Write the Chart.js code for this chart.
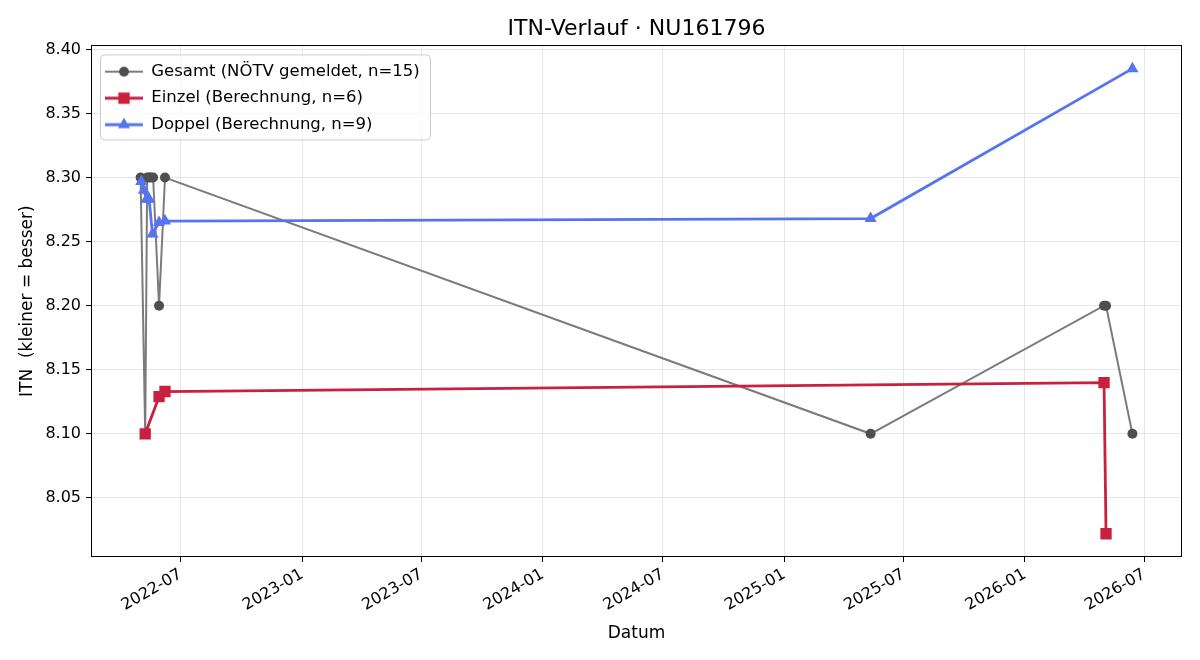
<!DOCTYPE html>
<html>
<head>
<meta charset="utf-8">
<title>ITN-Verlauf</title>
<script src="https://cdn.jsdelivr.net/npm/chart.js@4.4.1/dist/chart.umd.min.js"></script>
<style>
  html, body { margin: 0; padding: 0; background: #fff; }
  #wrap { width: 1200px; height: 660px; }
</style>
</head>
<body>
<div id="wrap"><canvas id="itnChart" width="1200" height="660"></canvas></div>
<script>
// Gesamt (NÖTV gemeldet)
const gesamtDates = ['2022-05-01', '2022-05-08', '2022-05-11', '2022-05-14', '2022-05-17', '2022-05-20',
  '2022-05-29', '2022-06-07', '2025-05-12', '2026-05-01', '2026-05-04', '2026-06-13'];
const gesamtValues = [8.30, 8.10, 8.30, 8.30, 8.30, 8.30, 8.20, 8.30, 8.10, 8.20, 8.20, 8.10];

// Einzel (Berechnung)
const einzelDates = ['2022-05-08', '2022-05-29', '2022-06-07', '2026-05-01', '2026-05-04'];
const einzelValues = [8.100, 8.129, 8.133, 8.140, 8.022];

// Doppel (Berechnung)
const doppelDates = ['2022-05-02', '2022-05-06', '2022-05-10', '2022-05-14', '2022-05-19',
  '2022-05-29', '2022-06-07', '2025-05-12', '2026-06-13'];
const doppelValues = [8.297, 8.290, 8.283, 8.283, 8.256, 8.265, 8.266, 8.268, 8.385];

const xTickMonths = ['2022-07', '2023-01', '2023-07', '2024-01', '2024-07', '2025-01', '2025-07', '2026-01', '2026-07'];
const yTicks = [8.05, 8.10, 8.15, 8.20, 8.25, 8.30, 8.35, 8.40];

const FONT = 'DejaVu Sans';
const toMs = d => Date.parse(d + 'T00:00:00Z');
const toPoints = (dates, values) => dates.map((d, i) => ({ x: toMs(d), y: values[i] }));

// matplotlib-like 5% margins
const allX = [...gesamtDates, ...einzelDates, ...doppelDates].map(toMs);
const allY = [...gesamtValues, ...einzelValues, ...doppelValues];
const xLo = Math.min(...allX), xHi = Math.max(...allX);
const yLo = Math.min(...allY), yHi = Math.max(...allY);
const xPad = (xHi - xLo) * 0.05, yPad = (yHi - yLo) * 0.05;

const GRAY_LINE = '#7b7b7b', GRAY_PT = '#4f4f4f';
const RED = '#c8203e';
const BLUE = '#5674ee';

function drawMarker(ctx, style, x, y, r) {
  ctx.beginPath();
  if (style === 'circle') {
    ctx.arc(x, y, r, 0, Math.PI * 2);
  } else if (style === 'rect') {
    const s = r * Math.SQRT1_2;
    ctx.rect(x - s, y - s, 2 * s, 2 * s);
  } else {
    for (let k = 0; k < 3; k++) {
      const a = k * 2 * Math.PI / 3;
      const px = x + Math.sin(a) * r, py = y - Math.cos(a) * r;
      k ? ctx.lineTo(px, py) : ctx.moveTo(px, py);
    }
    ctx.closePath();
  }
  ctx.fill();
}

function legendIcon(lineColor, lineWidth, ptColor, style, r) {
  const c = document.createElement('canvas');
  c.width = 38; c.height = 18;
  const ctx = c.getContext('2d');
  ctx.strokeStyle = lineColor;
  ctx.lineWidth = lineWidth;
  ctx.beginPath(); ctx.moveTo(0, 9); ctx.lineTo(38, 9); ctx.stroke();
  ctx.fillStyle = ptColor;
  drawMarker(ctx, style, 19, 9, r);
  return c;
}

const legendIcons = [
  legendIcon(GRAY_LINE, 2, GRAY_PT, 'circle', 5),
  legendIcon(RED, 2.8, RED, 'rect', 8),
  legendIcon(BLUE, 2.8, BLUE, 'triangle', 7)
];

// frame behind the legend, placed like matplotlib's upper-left legend box
const legendFrame = {
  id: 'legendFrame',
  afterLayout(chart) {
    const lg = chart.legend;
    if (!lg || lg.__framed) return;
    const drawOrig = lg.draw;
    lg.draw = function () {
      const ctx = this.ctx, a = chart.chartArea;
      ctx.save();
      ctx.beginPath();
      if (ctx.roundRect) ctx.roundRect(a.left + 9.5, a.top + 9.5, 330, 85, 4);
      else ctx.rect(a.left + 9.5, a.top + 9.5, 330, 85);
      ctx.fillStyle = 'rgba(255,255,255,0.8)';
      ctx.fill();
      ctx.strokeStyle = '#cccccc';
      ctx.lineWidth = 1;
      ctx.stroke();
      ctx.translate(a.left - this.left + 4, a.top - this.top + 8);
      drawOrig.call(this);
      ctx.restore();
    };
    lg.__framed = true;
  }
};

const frameBox = {
  id: 'frameBox',
  afterDatasetsDraw(chart) {
    const { ctx, chartArea: a } = chart;
    ctx.save();
    ctx.strokeStyle = '#000';
    ctx.lineWidth = 1;
    ctx.strokeRect(Math.round(a.left) + 0.5, Math.round(a.top) + 0.5,
      Math.round(a.right - a.left) - 1, Math.round(a.bottom - a.top) - 1);
    ctx.restore();
  }
};

const ctx = document.getElementById('itnChart').getContext('2d');
new Chart(ctx, {
  type: 'line',
  data: {
    datasets: [
      {
        label: 'Gesamt (NÖTV gemeldet, n=15)',
        data: toPoints(gesamtDates, gesamtValues),
        borderColor: GRAY_LINE,
        borderWidth: 2,
        pointStyle: 'circle',
        pointRadius: 5,
        pointBackgroundColor: GRAY_PT,
        pointBorderColor: GRAY_PT,
        pointBorderWidth: 0,
        order: 3
      },
      {
        label: 'Einzel (Berechnung, n=6)',
        data: toPoints(einzelDates, einzelValues),
        borderColor: RED,
        borderWidth: 2.8,
        pointStyle: 'rect',
        pointRadius: 8,
        pointBackgroundColor: RED,
        pointBorderColor: RED,
        pointBorderWidth: 0,
        order: 2
      },
      {
        label: 'Doppel (Berechnung, n=9)',
        data: toPoints(doppelDates, doppelValues),
        borderColor: BLUE,
        borderWidth: 2.8,
        pointStyle: 'triangle',
        pointRadius: 7,
        pointBackgroundColor: BLUE,
        pointBorderColor: BLUE,
        pointBorderWidth: 0,
        order: 1
      }
    ]
  },
  options: {
    responsive: false,
    animation: false,
    devicePixelRatio: 1,
    layout: { padding: { left: 0, right: 18, top: 0, bottom: 0 } },
    elements: { line: { tension: 0, fill: false } },
    scales: {
      x: {
        type: 'linear',
        min: xLo - xPad,
        max: xHi + xPad,
        afterBuildTicks: s => { s.ticks = xTickMonths.map(m => ({ value: toMs(m + '-01') })); },
        afterFit: s => { s.height = 103; },
        ticks: {
          autoSkip: false,
          minRotation: 30,
          maxRotation: 30,
          padding: 3,
          color: '#000',
          font: { family: FONT, size: 16 },
          callback: v => {
            const i = xTickMonths.findIndex(m => toMs(m + '-01') === v);
            return i >= 0 ? xTickMonths[i] : '';
          }
        },
        grid: { color: '#e6e6e6', lineWidth: 1, tickColor: '#000', tickLength: 5, tickWidth: 1 },
        border: { display: false },
        title: {
          display: true, text: 'Datum', color: '#000',
          font: { family: FONT, size: 17 }, padding: { top: 4, bottom: 16 }
        }
      },
      y: {
        type: 'linear',
        min: yLo - yPad,
        max: yHi + yPad,
        afterBuildTicks: s => { s.ticks = yTicks.map(v => ({ value: v })); },
        afterFit: s => { s.width = 91; },
        ticks: {
          color: '#000',
          padding: 5,
          font: { family: FONT, size: 16 },
          callback: v => v.toFixed(2)
        },
        grid: { color: '#e6e6e6', lineWidth: 1, tickColor: '#000', tickLength: 5, tickWidth: 1 },
        border: { display: false },
        title: {
          display: true, text: 'ITN  (kleiner = besser)', color: '#000',
          font: { family: FONT, size: 17 }, padding: { top: 17, bottom: 0 }
        }
      }
    },
    plugins: {
      title: {
        display: true,
        fullSize: false,
        text: 'ITN-Verlauf · NU161796',
        color: '#000',
        font: { family: FONT, size: 22, weight: 'normal' },
        padding: { top: 16, bottom: 3 }
      },
      legend: {
        position: 'chartArea',
        align: 'start',
        labels: {
          usePointStyle: true,
          pointStyleWidth: 38,
          padding: 10,
          color: '#000',
          font: { family: FONT, size: 16.5 },
          generateLabels: chart => chart.data.datasets.map((ds, i) => ({
            text: ds.label,
            pointStyle: legendIcons[i],
            fillStyle: ds.borderColor,
            strokeStyle: ds.borderColor,
            lineWidth: 0,
            hidden: false,
            datasetIndex: i,
            fontColor: '#000'
          }))
        }
      },
      tooltip: { enabled: false }
    }
  },
  plugins: [legendFrame, frameBox]
});
</script>
</body>
</html>
